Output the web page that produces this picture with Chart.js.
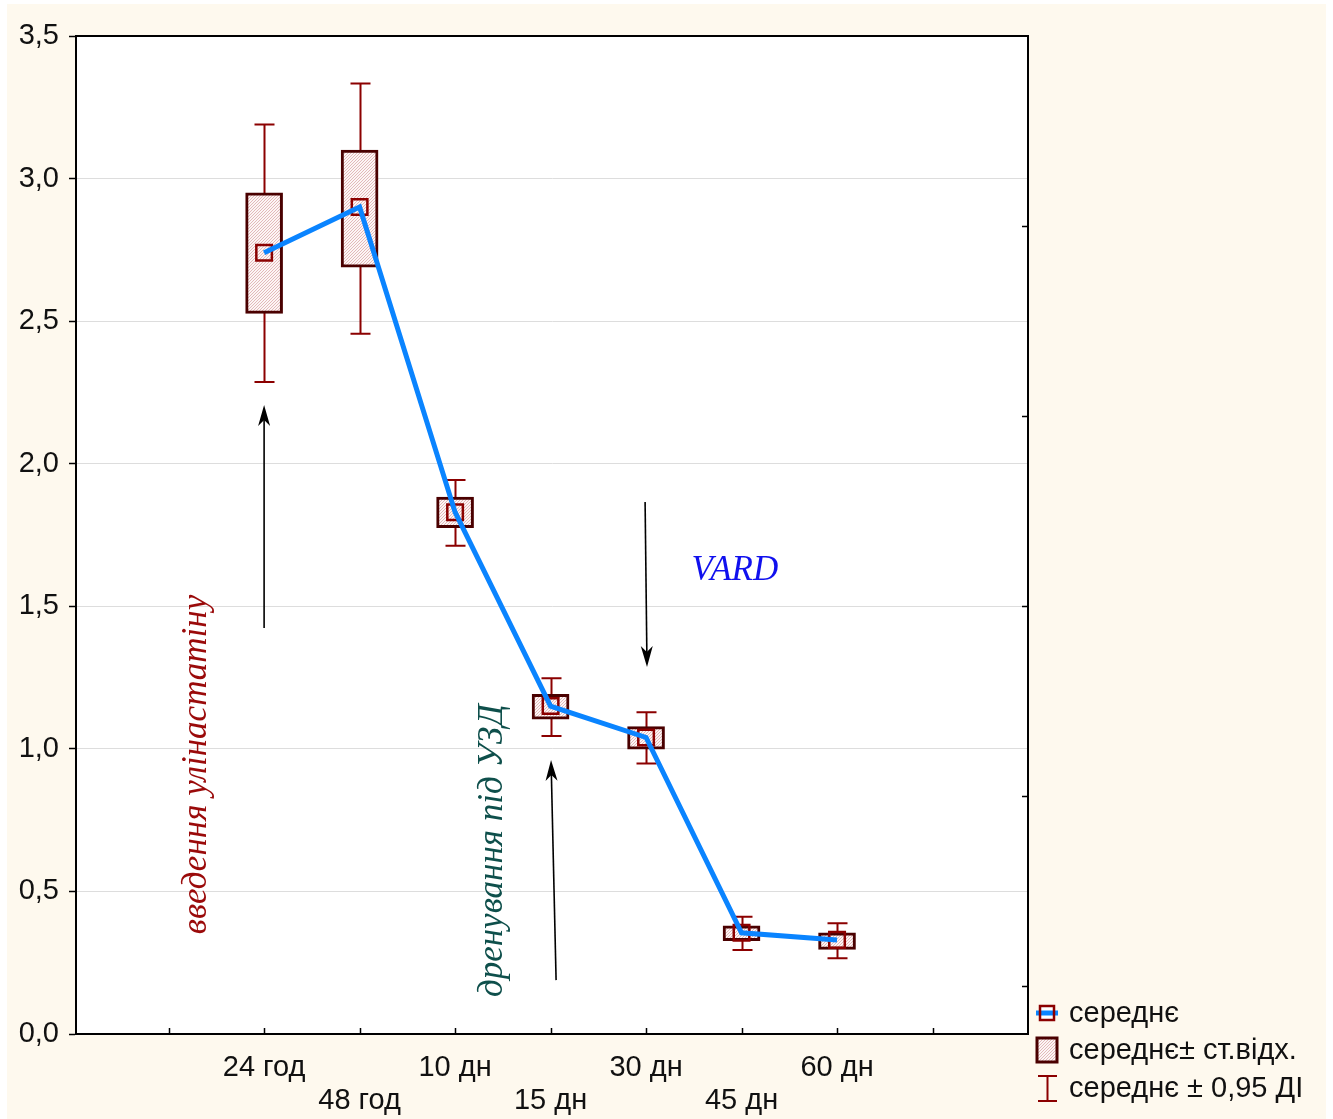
<!DOCTYPE html>
<html>
<head>
<meta charset="utf-8">
<script src="https://cdn.jsdelivr.net/npm/chart.js@4.4.1/dist/chart.umd.min.js"></script>
<style>
  html, body { margin: 0; padding: 0; background: #ffffff; }
  canvas { display: block; }
</style>
</head>
<body>
<canvas id="c" width="1333" height="1119"></canvas>
<script>
// Time points of observation
const categories = ['24 год', '48 год', '10 дн', '15 дн', '30 дн', '45 дн', '60 дн'];
// Mean values
const means  = [2.74, 2.90, 1.83, 1.15, 1.04, 0.355, 0.33];
// Mean ± standard deviation
const sdLow  = [2.527, 2.689, 1.776, 1.104, 0.999, 0.327, 0.297];
const sdHigh = [2.950, 3.100, 1.883, 1.191, 1.078, 0.379, 0.355];
// Mean ± 0.95 confidence interval
const ciLow  = [2.287, 2.456, 1.712, 1.045, 0.949, 0.295, 0.266];
const ciHigh = [3.190, 3.333, 1.943, 1.248, 1.128, 0.411, 0.388];
// Y axis tick values
const yTicks = [0, 0.5, 1.0, 1.5, 2.0, 2.5, 3.0, 3.5];
// Legend entries
const legendLabels = ['середнє', 'середнє± ст.відх.', 'середнє ± 0,95 ДІ'];

const ctx = document.getElementById('c').getContext('2d');
const SANS = '"Liberation Sans", Arial, sans-serif';

// fine diagonal hatch used for the ± SD boxes
function makeHatch() {
  const c = document.createElement('canvas');
  c.width = 3; c.height = 3;
  const g = c.getContext('2d');
  g.fillStyle = '#fdf5f5';
  g.fillRect(0, 0, 3, 3);
  g.fillStyle = '#e2b9b9';
  g.fillRect(0, 2, 1, 1);
  g.fillRect(1, 1, 1, 1);
  g.fillRect(2, 0, 1, 1);
  return ctx.createPattern(c, 'repeat');
}
const hatch = makeHatch();

const WHISKER = '#8b0000';
const BOXLINE = '#4a0000';
const MEANLINE = '#0a84ff';

// annotations in data units
const arrows = [
  { from: [0.0, 1.424], to: [0.0, 2.206] },
  { from: [3.99, 1.866], to: [4.01, 1.287] },
  { from: [3.058, 0.189], to: [3.005, 0.961] }
];
const notes = [
  { text: 'VARD', at: [4.93, 1.624], rot: 0, color: '#1010ee' },
  { text: 'введення улінастатіну', at: [-0.70, 0.945], rot: -Math.PI / 2, color: '#9a0a0a' },
  { text: 'дренування під УЗД', at: [2.39, 0.643], rot: -Math.PI / 2, color: '#0e4f4b' }
];

function drawArrow(g, x1, y1, x2, y2) {
  const ang = Math.atan2(y2 - y1, x2 - x1);
  const L = 21, W = 6, N = 15;
  g.save();
  g.strokeStyle = '#000';
  g.fillStyle = '#000';
  g.lineWidth = 1.6;
  g.beginPath();
  g.moveTo(x1, y1);
  g.lineTo(x2 - Math.cos(ang) * N, y2 - Math.sin(ang) * N);
  g.stroke();
  g.translate(x2, y2);
  g.rotate(ang);
  g.beginPath();
  g.moveTo(0, 0);
  g.lineTo(-L, -W);
  g.lineTo(-N, 0);
  g.lineTo(-L, W);
  g.closePath();
  g.fill();
  g.restore();
}

const decor = {
  id: 'decor',
  beforeDraw(chart) {
    const g = chart.ctx, a = chart.chartArea;
    g.save();
    g.fillStyle = '#ffffff';
    g.fillRect(0, 0, chart.width, chart.height);
    g.fillStyle = '#fef9ee';
    g.fillRect(7, 4, 1319, chart.height - 4);
    g.fillStyle = '#ffffff';
    g.fillRect(a.left, a.top, a.right - a.left, a.bottom - a.top);
    g.restore();
  },
  beforeDatasetsDraw(chart) {
    // whiskers for the confidence interval
    const g = chart.ctx, xs = chart.scales.x, ys = chart.scales.y;
    g.save();
    g.strokeStyle = WHISKER;
    g.lineWidth = 2;
    for (let i = 0; i < categories.length; i++) {
      const px = Math.round(xs.getPixelForValue(i)) + 0.5;
      const t = ys.getPixelForValue(ciHigh[i]);
      const b = ys.getPixelForValue(ciLow[i]);
      g.beginPath();
      g.moveTo(px, t); g.lineTo(px, b);
      g.moveTo(px - 10, t); g.lineTo(px + 10, t);
      g.moveTo(px - 10, b); g.lineTo(px + 10, b);
      g.stroke();
    }
    g.restore();
  },
  afterDraw(chart) {
    const g = chart.ctx, a = chart.chartArea;
    const xs = chart.scales.x, ys = chart.scales.y, y2 = chart.scales.y2;
    g.save();
    // frame
    g.strokeStyle = '#000';
    g.lineWidth = 2;
    g.strokeRect(a.left, a.top, a.right - a.left, a.bottom - a.top);
    // inner tick marks on the bottom axis
    g.lineWidth = 1.5;
    g.beginPath();
    xs.ticks.forEach(t => {
      const px = Math.round(xs.getPixelForValue(t.value)) + 0.5;
      g.moveTo(px, a.bottom); g.lineTo(px, a.bottom - 6);
    });
    // inner tick marks on the right axis
    [0, 1, 2, 3, 4].forEach(v => {
      const py = Math.round(y2.getPixelForValue(v)) + 0.5;
      g.moveTo(a.right, py); g.lineTo(a.right - 6, py);
    });
    g.stroke();

    // arrows
    arrows.forEach(r => {
      drawArrow(g, xs.getPixelForValue(r.from[0]), ys.getPixelForValue(r.from[1]),
                   xs.getPixelForValue(r.to[0]), ys.getPixelForValue(r.to[1]));
    });
    // text notes
    notes.forEach(n => {
      g.save();
      g.translate(xs.getPixelForValue(n.at[0]), ys.getPixelForValue(n.at[1]));
      g.rotate(n.rot);
      g.font = 'italic 35px "Liberation Serif", "DejaVu Serif", serif';
      g.fillStyle = n.color;
      g.textAlign = 'center';
      g.textBaseline = 'middle';
      g.fillText(n.text, 0, 0);
      g.restore();
    });

    // legend
    const lx = a.right + 19, tx = a.right + 41;
    const rows = [a.bottom - 21, a.bottom + 16, a.bottom + 54];
    // mean
    g.fillStyle = '#ffffff';
    g.fillRect(lx - 7, rows[0] - 7, 14, 14);
    g.strokeStyle = MEANLINE;
    g.lineWidth = 5;
    g.beginPath(); g.moveTo(lx - 11, rows[0]); g.lineTo(lx + 11, rows[0]); g.stroke();
    g.strokeStyle = WHISKER;
    g.lineWidth = 2.5;
    g.strokeRect(lx - 7, rows[0] - 7, 14, 14);
    // ± SD box
    g.fillStyle = hatch;
    g.fillRect(lx - 10, rows[1] - 12, 20, 24);
    g.strokeStyle = BOXLINE;
    g.lineWidth = 3;
    g.strokeRect(lx - 10, rows[1] - 12, 20, 24);
    // CI whisker
    g.strokeStyle = WHISKER;
    g.lineWidth = 2;
    g.beginPath();
    g.moveTo(lx + 0.5, rows[2] - 12); g.lineTo(lx + 0.5, rows[2] + 13);
    g.moveTo(lx - 9, rows[2] - 12); g.lineTo(lx + 10, rows[2] - 12);
    g.moveTo(lx - 9, rows[2] + 13); g.lineTo(lx + 10, rows[2] + 13);
    g.stroke();
    g.fillStyle = '#111';
    g.font = '29px ' + SANS;
    g.textAlign = 'left';
    g.textBaseline = 'middle';
    legendLabels.forEach((s, i) => g.fillText(s, tx, rows[i] + 1));
    g.restore();
  }
};

new Chart(ctx, {
  type: 'bar',
  data: {
    datasets: [
      {
        type: 'line',
        label: legendLabels[0],
        data: categories.map((c, i) => ({ x: i, y: means[i] })),
        borderColor: MEANLINE,
        borderWidth: 5,
        pointRadius: 0,
        tension: 0,
        fill: false,
        order: 0
      },
      {
        type: 'line',
        label: 'marker',
        data: categories.map((c, i) => ({ x: i, y: means[i] })),
        showLine: false,
        pointStyle: 'rect',
        pointRadius: 11,
        pointBorderColor: WHISKER,
        pointBorderWidth: 2.5,
        pointBackgroundColor: 'rgba(0,0,0,0)',
        order: 1
      },
      {
        type: 'bar',
        label: legendLabels[1],
        data: categories.map((c, i) => ({ x: i, y: [sdLow[i], sdHigh[i]] })),
        backgroundColor: hatch,
        borderColor: BOXLINE,
        borderWidth: 3,
        borderSkipped: false,
        barThickness: 37,
        order: 2
      }
    ]
  },
  options: {
    responsive: false,
    animation: false,
    events: [],
    layout: { padding: { left: 0, top: 36, right: 305, bottom: 0 } },
    plugins: { legend: { display: false }, tooltip: { enabled: false } },
    scales: {
      x: {
        type: 'linear',
        offset: false,
        min: -1.97,
        max: 8,
        afterBuildTicks(s) { s.ticks = [-1, 0, 1, 2, 3, 4, 5, 6, 7].map(v => ({ value: v })); },
        afterFit(s) { s.height = 85; },
        grid: { display: false, drawTicks: false, offset: false },
        border: { display: true, color: '#000', width: 2 },
        ticks: {
          padding: 17,
          autoSkip: false,
          maxRotation: 0,
          color: '#111',
          font: { family: SANS, size: 29, lineHeight: 1.14 },
          callback(v) {
            const i = Math.round(v);
            if (i < 0 || i >= categories.length) return '';
            return i % 2 === 0 ? [categories[i], ''] : ['', categories[i]];
          }
        }
      },
      y: {
        min: 0,
        max: 3.5,
        afterBuildTicks(s) { s.ticks = yTicks.map(v => ({ value: v })); },
        afterFit(s) { s.width = 76; },
        grid: { color: '#dddddd', lineWidth: 1, tickLength: 7, tickColor: '#000', tickWidth: 1.5 },
        border: { display: true, color: '#000', width: 2 },
        ticks: {
          padding: 10,
          color: '#111',
          font: { family: SANS, size: 29 },
          callback(v) { return v.toFixed(1).replace('.', ','); }
        }
      },
      y2: {
        position: 'right',
        display: false,
        min: -0.25,
        max: 5
      }
    }
  },
  plugins: [decor]
});
</script>
</body>
</html>
